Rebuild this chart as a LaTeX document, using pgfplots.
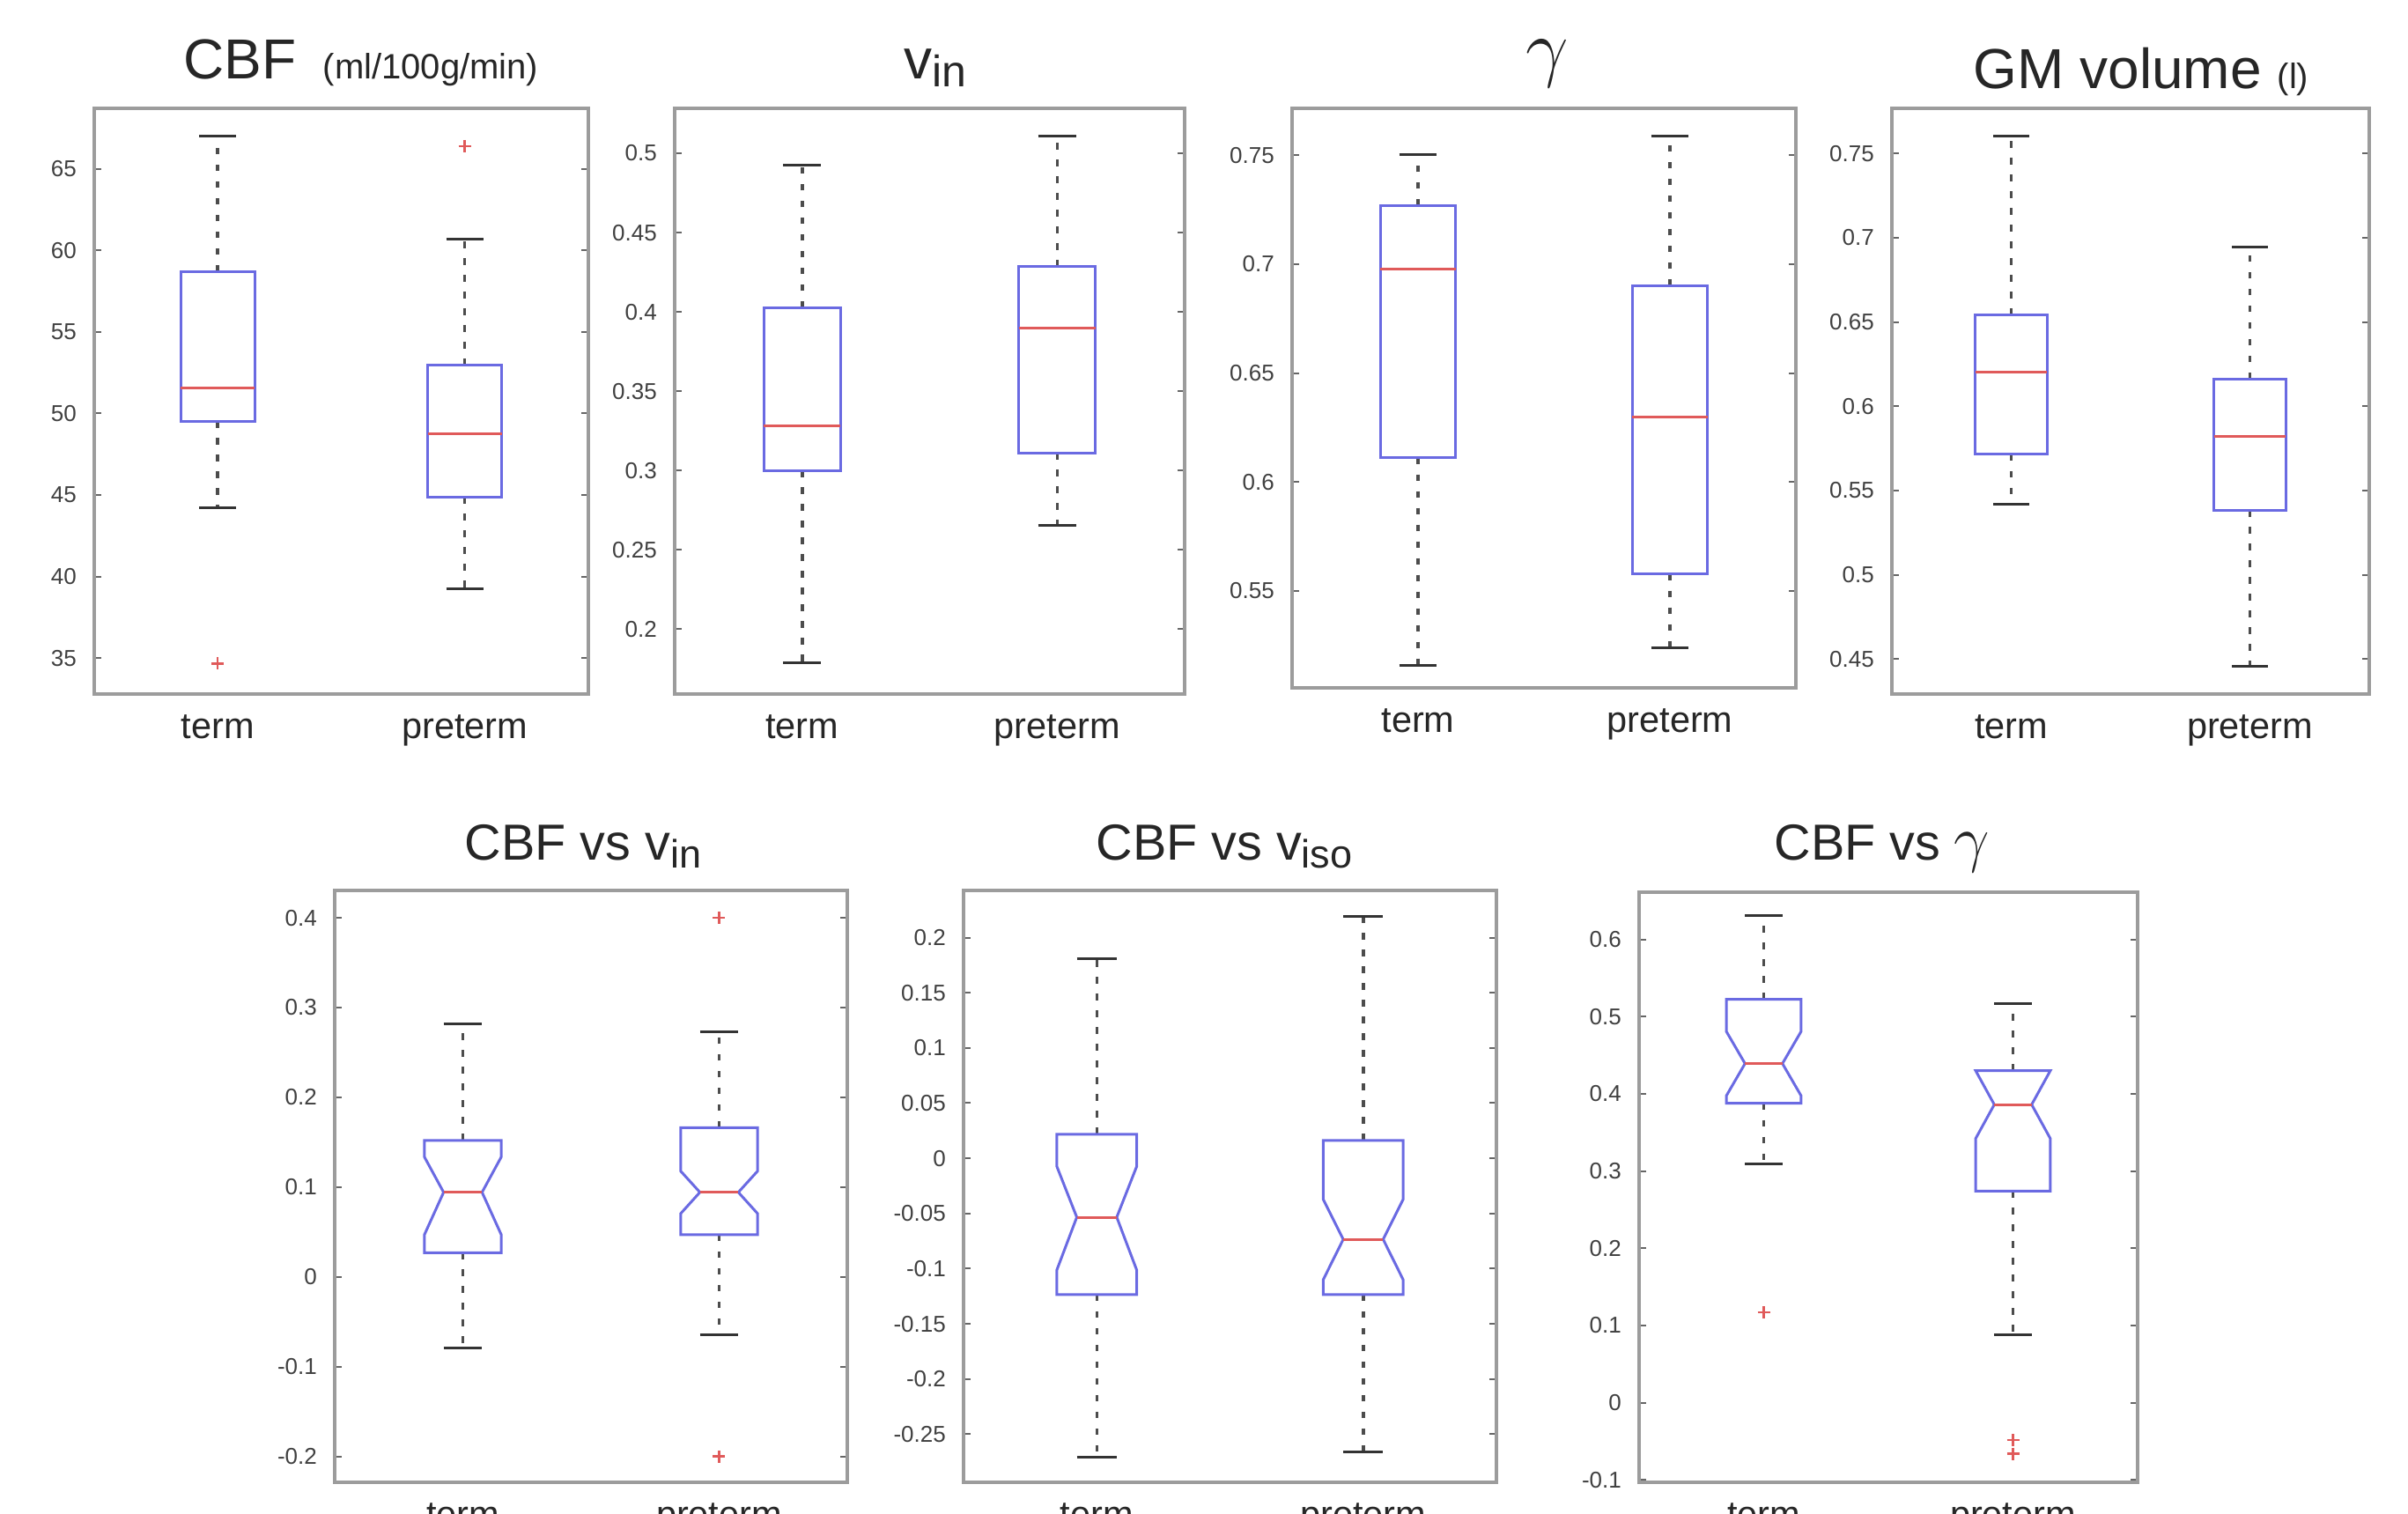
\documentclass[border=0pt]{standalone}
\usepackage{fontspec}
\setmainfont{Liberation Sans}
\usepackage{pgfplots}
\pgfplotsset{compat=1.18}
\usepgfplotslibrary{statistics}
\definecolor{boxblue}{HTML}{6A6AE2}
\definecolor{medred}{HTML}{E05A5A}
\definecolor{framegray}{HTML}{9C9C9C}

\tikzset{
  mlwhisk/.style={draw=black!70,line width=0.7pt,dash pattern=on 1.5pt off 2.3pt},
  mlcap/.style={draw=black!80,line width=0.6pt},
}
\pgfplotsset{
  boxplot/notch low/.initial=0,
  boxplot/notch high/.initial=0,
  mlbox/.style={
    boxplot/draw direction=y,
    boxplot/box extend=0.3,
    boxplot/whisker extend=0.15,
    mark=+,mark size=1.4pt,mark options={draw=medred,line width=0.5pt,solid},
    boxplot/draw/box/.code={%
      \draw[draw=boxblue,line width=0.6pt]
        (boxplot box cs:\pgfplotsboxplotvalue{lower quartile},0) rectangle
        (boxplot box cs:\pgfplotsboxplotvalue{upper quartile},1);},
    boxplot/draw/median/.code={%
      \draw[draw=medred,line width=0.6pt]
        (boxplot box cs:\pgfplotsboxplotvalue{median},0) --
        (boxplot box cs:\pgfplotsboxplotvalue{median},1);},
    boxplot/draw/lower whisker/.code={%
      \draw[mlwhisk] (boxplot cs:\pgfplotsboxplotvalue{lower quartile}) --
        (boxplot cs:\pgfplotsboxplotvalue{lower whisker});
      \draw[mlcap] (boxplot whisker cs:\pgfplotsboxplotvalue{lower whisker},0) --
        (boxplot whisker cs:\pgfplotsboxplotvalue{lower whisker},1);},
    boxplot/draw/upper whisker/.code={%
      \draw[mlwhisk] (boxplot cs:\pgfplotsboxplotvalue{upper quartile}) --
        (boxplot cs:\pgfplotsboxplotvalue{upper whisker});
      \draw[mlcap] (boxplot whisker cs:\pgfplotsboxplotvalue{upper whisker},0) --
        (boxplot whisker cs:\pgfplotsboxplotvalue{upper whisker},1);},
  },
  mlnotch/.style={mlbox,
    boxplot/draw/box/.code={%
      \draw[draw=boxblue,line width=0.6pt]
        (boxplot box cs:\pgfplotsboxplotvalue{lower quartile},0) --
        (boxplot box cs:\pgfplotsboxplotvalue{notch low},0) --
        (boxplot box cs:\pgfplotsboxplotvalue{median},0.25) --
        (boxplot box cs:\pgfplotsboxplotvalue{notch high},0) --
        (boxplot box cs:\pgfplotsboxplotvalue{upper quartile},0) --
        (boxplot box cs:\pgfplotsboxplotvalue{upper quartile},1) --
        (boxplot box cs:\pgfplotsboxplotvalue{notch high},1) --
        (boxplot box cs:\pgfplotsboxplotvalue{median},0.75) --
        (boxplot box cs:\pgfplotsboxplotvalue{notch low},1) --
        (boxplot box cs:\pgfplotsboxplotvalue{lower quartile},1) -- cycle;},
    boxplot/draw/median/.code={%
      \draw[draw=medred,line width=0.6pt]
        (boxplot box cs:\pgfplotsboxplotvalue{median},0.25) --
        (boxplot box cs:\pgfplotsboxplotvalue{median},0.75);},
  },
  mlaxis/.style={
    scale only axis,anchor=south west,
    xmin=0.5,xmax=2.5,xtick={1,2},xticklabels={term,preterm},
    xtick style={draw=none},
    axis line style={draw=framegray,line width=0.9pt},
    tick align=inside,ytick pos=both,major tick length=1.6pt,
    ytick style={draw=black!60,line width=0.4pt},
    yticklabel style={font=\fontsize{5.2}{6}\selectfont,text=black!75,xshift=-0.5pt},
    xticklabel style={font=\fontsize{8.3}{9}\selectfont,text=black!85,yshift=-1.2pt},
    scaled y ticks=false,
    /pgf/number format/assume math mode=true,
    /pgf/number format/fixed,/pgf/number format/precision=2,
  },
}
\newcommand{\sub}[2]{\raisebox{-#2}{\fontsize{#1}{#1}\selectfont in}}

\begin{document}
\begin{tikzpicture}
\path[use as bounding box] (0,0) rectangle (546.8pt,343.6pt);

% top row
\begin{axis}[mlaxis,at={(21.4pt,186pt)},width=112.2pt,height=133pt,
  ymin=32.8,ymax=68.7,ytick={35,40,45,50,55,60,65}]
\addplot[mlbox,boxplot prepared={draw position=1,lower whisker=44.23,lower quartile=49.53,
  median=51.54,upper quartile=58.70,upper whisker=66.98}] table[row sep=\\,y index=0] {v\\ 34.67\\};
\addplot[mlbox,boxplot prepared={draw position=2,lower whisker=39.26,lower quartile=44.88,
  median=48.73,upper quartile=52.96,upper whisker=60.71}] table[row sep=\\,y index=0] {v\\ 66.39\\};
\end{axis}

\begin{axis}[mlaxis,at={(153.2pt,186pt)},width=115.8pt,height=133pt,
  ymin=0.1592,ymax=0.5283,ytick={0.2,0.25,0.3,0.35,0.4,0.45,0.5}]
\addplot[mlbox,boxplot prepared={draw position=1,lower whisker=0.1787,lower quartile=0.3000,
  median=0.3283,upper quartile=0.4026,upper whisker=0.4927}] coordinates {};
\addplot[mlbox,boxplot prepared={draw position=2,lower whisker=0.2655,lower quartile=0.3112,
  median=0.3898,upper quartile=0.4284,upper whisker=0.5107}] coordinates {};
\end{axis}

\begin{axis}[mlaxis,at={(293.4pt,187.4pt)},width=114.4pt,height=131.6pt,
  ymin=0.5055,ymax=0.7716,ytick={0.55,0.6,0.65,0.7,0.75}]
\addplot[mlbox,boxplot prepared={draw position=1,lower whisker=0.5159,lower quartile=0.6112,
  median=0.6977,upper quartile=0.7270,upper whisker=0.7504}] coordinates {};
\addplot[mlbox,boxplot prepared={draw position=2,lower whisker=0.5237,lower quartile=0.5578,
  median=0.6297,upper quartile=0.6903,upper whisker=0.7587}] coordinates {};
\end{axis}

\begin{axis}[mlaxis,at={(429.6pt,186pt)},width=108.4pt,height=133pt,
  ymin=0.4292,ymax=0.7768,ytick={0.45,0.5,0.55,0.6,0.65,0.7,0.75}]
\addplot[mlbox,boxplot prepared={draw position=1,lower whisker=0.5417,lower quartile=0.5714,
  median=0.6202,upper quartile=0.6542,upper whisker=0.7601}] coordinates {};
\addplot[mlbox,boxplot prepared={draw position=2,lower whisker=0.4456,lower quartile=0.5382,
  median=0.5821,upper quartile=0.6161,upper whisker=0.6946}] coordinates {};
\end{axis}

% bottom row
\begin{axis}[mlaxis,at={(76pt,7pt)},width=116.4pt,height=134.4pt,
  ymin=-0.2289,ymax=0.4305,ytick={-0.2,-0.1,0,0.1,0.2,0.3,0.4}]
\addplot[mlnotch,boxplot/notch low=0.0469,boxplot/notch high=0.1336,
  boxplot prepared={draw position=1,lower whisker=-0.0792,lower quartile=0.0269,
  median=0.0942,upper quartile=0.1520,upper whisker=0.2823}] coordinates {};
\addplot[mlnotch,boxplot/notch low=0.0705,boxplot/notch high=0.1178,
  boxplot prepared={draw position=2,lower whisker=-0.065,lower quartile=0.0469,
  median=0.0942,upper quartile=0.1662,upper whisker=0.2728}] table[row sep=\\,y index=0] {v\\ 0.4\\ -0.2\\};
\end{axis}

\begin{axis}[mlaxis,at={(218.8pt,7pt)},width=121pt,height=134.4pt,
  ymin=-0.2936,ymax=0.2427,ytick={-0.25,-0.2,-0.15,-0.1,-0.05,0,0.05,0.1,0.15,0.2}]
\addplot[mlnotch,boxplot/notch low=-0.1013,boxplot/notch high=-0.0073,
  boxplot prepared={draw position=1,lower whisker=-0.2709,lower quartile=-0.1235,
  median=-0.0534,upper quartile=0.0218,upper whisker=0.1808}] coordinates {};
\addplot[mlnotch,boxplot/notch low=-0.110,boxplot/notch high=-0.0372,
  boxplot prepared={draw position=2,lower whisker=-0.2658,lower quartile=-0.1235,
  median=-0.0735,upper quartile=0.0162,upper whisker=0.2192}] coordinates {};
\end{axis}

\begin{axis}[mlaxis,at={(372.2pt,7pt)},width=113.2pt,height=134pt,
  ymin=-0.103,ymax=0.6611,ytick={-0.1,0,0.1,0.2,0.3,0.4,0.5,0.6}]
\addplot[mlnotch,boxplot/notch low=0.3975,boxplot/notch high=0.4808,
  boxplot prepared={draw position=1,lower whisker=0.3097,lower quartile=0.3879,
  median=0.4392,upper quartile=0.5224,upper whisker=0.6306}] table[row sep=\\,y index=0] {v\\ 0.1171\\};
\addplot[mlnotch,boxplot/notch low=0.342,boxplot/notch high=0.4301,
  boxplot prepared={draw position=2,lower whisker=0.0878,lower quartile=0.2742,
  median=0.3861,upper quartile=0.4301,upper whisker=0.5163}] table[row sep=\\,y index=0] {v\\ -0.048\\ -0.066\\};
\end{axis}

% titles
\node[anchor=base,font=\fontsize{12.8}{13}\selectfont,text=black!85] at (82pt,325.6pt)
  {CBF\hspace{6pt}{\fontsize{8}{8}\selectfont (ml/100g/min)}};
\node[anchor=base,font=\fontsize{12.8}{13}\selectfont,text=black!85] at (212.4pt,325.6pt)
  {v\sub{10}{1.8pt}};
\node[anchor=base,font=\fontsize{18}{18}\selectfont,text=black!85] at (351.4pt,327pt) {$\gamma$};
\node[anchor=base,font=\fontsize{12.8}{13}\selectfont,text=black!85] at (486.2pt,323.4pt)
  {GM volume {\fontsize{8}{8}\selectfont (l)}};
\node[anchor=base,font=\fontsize{11.5}{12}\selectfont,text=black!85] at (132.4pt,148.4pt)
  {CBF vs v\sub{9}{1.8pt}};
\node[anchor=base,font=\fontsize{11.5}{12}\selectfont,text=black!85] at (278pt,148.4pt)
  {CBF vs v\raisebox{-1.8pt}{\fontsize{9}{9}\selectfont iso}};
\node[anchor=base,font=\fontsize{11.5}{12}\selectfont,text=black!85] at (427.4pt,148.4pt)
  {CBF vs \fontsize{14}{14}\selectfont$\gamma$};
\end{tikzpicture}
\end{document}
